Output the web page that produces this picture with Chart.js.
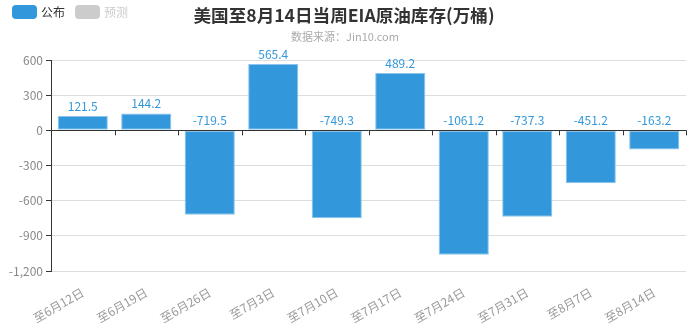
<!DOCTYPE html>
<html>
<head>
<meta charset="utf-8">
<script src="https://cdn.jsdelivr.net/npm/chart.js@4/dist/chart.umd.min.js"></script>
<style>
  html, body { margin: 0; padding: 0; background: #fff; }
  #wrap { width: 693px; height: 336px; position: relative; }
</style>
</head>
<body>
<div id="wrap"><canvas id="eia"></canvas></div>
<script>
const weeks = ['至6月12日', '至6月19日', '至6月26日', '至7月3日', '至7月10日', '至7月17日', '至7月24日', '至7月31日', '至8月7日', '至8月14日'];
const published = [121.5, 144.2, -719.5, 565.4, -749.3, 489.2, -1061.2, -737.3, -451.2, -163.2];
const forecast = [null, null, null, null, null, null, null, null, null, null];
const seriesNames = ['公布', '预测'];
const yTicks = [600, 300, 0, -300, -600, -900, -1200];

const font = '"Noto Sans CJK SC", "Noto Sans", sans-serif';
const blue = '#3398DB';

// header: legend, title, source
const headerPlugin = {
  id: 'header',
  afterDraw(chart) {
    const ctx = chart.ctx;
    ctx.save();
    const swatches = [blue, '#ccc'];
    const textColors = ['#333', '#ccc'];
    let x = 12;
    ctx.font = '12px ' + font;
    ctx.textBaseline = 'middle';
    seriesNames.forEach((name, i) => {
      ctx.fillStyle = swatches[i];
      ctx.beginPath();
      ctx.roundRect(x, 5, 25, 14, 4);
      ctx.fill();
      ctx.fillStyle = textColors[i];
      ctx.textAlign = 'left';
      ctx.fillText(name, x + 29, 12);
      x += 29 + ctx.measureText(name).width + 10;
    });
    ctx.textAlign = 'center';
    ctx.fillStyle = '#333';
    ctx.font = 'bold 17.6px ' + font;
    ctx.fillText('美国至8月14日当周EIA原油库存(万桶)', 344, 15);
    ctx.fillStyle = '#aaa';
    ctx.font = '11px ' + font;
    ctx.fillText('数据来源：Jin10.com', 345, 37);
    ctx.restore();
  }
};

// zero line with category ticks, and value labels
const barExtras = {
  id: 'barExtras',
  afterDatasetsDraw(chart) {
    const ctx = chart.ctx;
    const xs = chart.scales.x, ys = chart.scales.y;
    const y0 = ys.getPixelForValue(0);
    ctx.save();
    ctx.strokeStyle = '#333';
    ctx.lineWidth = 1;
    ctx.beginPath();
    ctx.moveTo(chart.chartArea.left, Math.round(y0) + 0.5);
    ctx.lineTo(chart.chartArea.right, Math.round(y0) + 0.5);
    const step = xs.getPixelForValue(1) - xs.getPixelForValue(0);
    for (let i = 1; i <= weeks.length; i++) {
      const tx = Math.round(xs.getPixelForValue(i) - step / 2) + 0.5;
      ctx.moveTo(tx, y0);
      ctx.lineTo(tx, y0 + 5);
    }
    ctx.stroke();

    ctx.fillStyle = blue;
    ctx.font = '12px ' + font;
    ctx.textAlign = 'center';
    ctx.textBaseline = 'bottom';
    chart.getDatasetMeta(0).data.forEach((bar, i) => {
      const v = published[i];
      const top = v >= 0 ? bar.y : y0;
      ctx.fillText(v.toFixed(1), bar.x, top - 4);
    });
    ctx.restore();
  }
};

new Chart(document.getElementById('eia'), {
  type: 'bar',
  data: {
    labels: weeks,
    datasets: [
      {
        label: seriesNames[0],
        data: published,
        backgroundColor: blue,
        borderColor: '#8cc4ec',
        borderWidth: 1,
        borderSkipped: false,
        categoryPercentage: 1,
        barPercentage: 0.79
      },
      {
        label: seriesNames[1],
        data: forecast,
        backgroundColor: '#ccc',
        grouped: false
      }
    ]
  },
  options: {
    responsive: true,
    maintainAspectRatio: false,
    animation: false,
    layout: { padding: { top: 60, right: 7, left: 0, bottom: 0 } },
    plugins: {
      legend: { display: false },
      tooltip: { enabled: false }
    },
    scales: {
      x: {
        grid: { display: false },
        border: { display: false },
        ticks: {
          color: '#999',
          font: { size: 12, family: font },
          maxRotation: 30,
          minRotation: 30,
          padding: 6
        },
        afterFit(scale) { scale.height = 65; }
      },
      y: {
        min: -1200,
        max: 600,
        afterBuildTicks(scale) { scale.ticks = yTicks.map(v => ({ value: v })); },
        grid: {
          color: '#ddd',
          tickColor: '#333',
          tickLength: 5
        },
        border: { display: true, color: '#333' },
        ticks: {
          color: '#888',
          font: { size: 12, family: font },
          padding: 3,
          callback: v => v.toLocaleString('en-US')
        },
        afterFit(scale) { scale.width = 51; }
      }
    }
  },
  plugins: [headerPlugin, barExtras]
});
</script>
</body>
</html>
